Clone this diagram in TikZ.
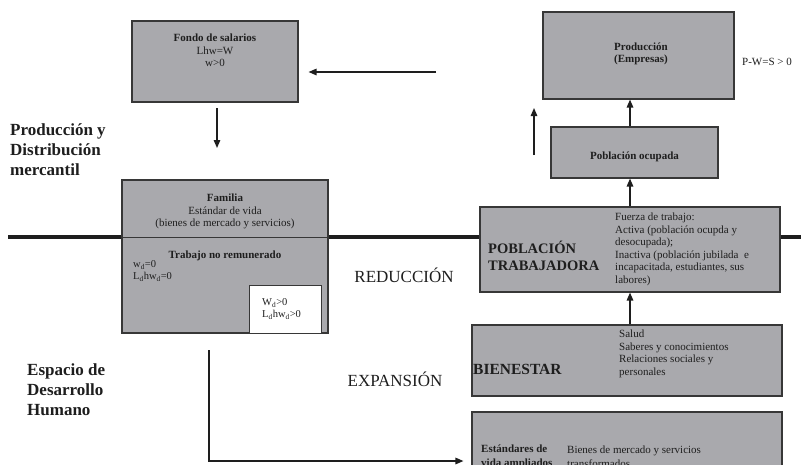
\documentclass[tikz,border=0pt]{standalone}
\usepackage{fontspec}
\setmainfont{Liberation Serif}
\usetikzlibrary{arrows.meta}
\definecolor{boxgray}{RGB}{169,169,173}
\definecolor{edgegray}{RGB}{55,55,55}
\definecolor{ink}{RGB}{30,30,30}
\tikzset{
  box/.style={draw=edgegray, line width=1.1pt, fill=boxgray, inner sep=0pt},
  whitebox/.style={draw=edgegray, line width=1pt, fill=white, inner sep=0pt},
  txt/.style={inner sep=0pt, text=ink, font=\fontsize{11}{12.5}\selectfont},
  bigtxt/.style={inner sep=0pt, text=ink, font=\fontsize{17}{20}\selectfont\bfseries, align=left, anchor=west},
  arr/.style={draw=ink, line width=1.4pt, -{Triangle[length=8pt,width=6.5pt]}},
}
\begin{document}
\begin{tikzpicture}[x=1pt,y=-1pt]
\clip (0,0) rectangle (801,464);
\fill[white] (0,0) rectangle (801,464);
% thick separation line
\coordinate (lineL) at (8,237);
\coordinate (lineR) at (801,237);
\draw[ink, line width=4.5pt] (lineL) -- (lineR);

% boxes
\node[box, minimum width=166pt, minimum height=81pt] (fondo) at (215,61.5) {};
\node[box, minimum width=191pt, minimum height=87pt] (prod) at (638.5,55.5) {};
\node[box, minimum width=167pt, minimum height=51pt] (ocup) at (634.5,152.5) {};
\node[box, minimum width=206pt, minimum height=153pt] (fam) at (225,256.5) {};
\coordinate (divL) at (122,237);
\coordinate (divR) at (328,237);
\draw[edgegray, line width=1pt] (divL) -- (divR);
\node[whitebox, minimum width=72pt, minimum height=48pt] (wbox) at (285,309) {};
\node[box, minimum width=300pt, minimum height=85pt] (trab) at (630,249.5) {};
\node[box, minimum width=310pt, minimum height=71pt] (bien) at (627,360.5) {};
\node[box, minimum width=310pt, minimum height=70pt] (estd) at (627,447) {};

% texts
\node[txt, align=center] (tfondo) at (215,50.5) {\textbf{Fondo de salarios}\\Lhw=W\\w>0};
\node[txt, align=center] (tprod) at (641,54) {\textbf{Producción}\\\textbf{(Empresas)}};
\node[txt, anchor=west] (tpws) at (742,62) {P-W=S > 0};
\node[txt, font=\fontsize{11}{12.5}\selectfont\bfseries] (tocup) at (634.5,157) {Población ocupada};
\node[txt, align=center] (tfam) at (225,211.5) {\textbf{Familia}\\Estándar de vida\\(bienes de mercado y servicios)};
\node[txt, font=\fontsize{11}{12.5}\selectfont\bfseries] (ttrabnr) at (225,256) {Trabajo no remunerado};
\node[txt, align=left, anchor=west, font=\fontsize{10.5}{11.5}\selectfont] (twd) at (133,271) {w\textsubscript{d}=0\\L\textsubscript{d}hw\textsubscript{d}=0};
\node[txt, align=left, anchor=west, font=\fontsize{10.5}{11.5}\selectfont] (tWd) at (262,309) {W\textsubscript{d}>0\\L\textsubscript{d}hw\textsubscript{d}>0};
\node[txt, align=left, anchor=west, font=\fontsize{14.5}{17}\selectfont\bfseries] (tpob) at (488,255.5) {POBLACIÓN\\TRABAJADORA};
\node[txt, align=left, anchor=west] (tfuerza) at (615,249.5) {Fuerza de trabajo:\\Activa (población ocupda y\\desocupada);\\Inactiva (población jubilada\ \ e\\incapacitada, estudiantes, sus\\labores)};
\node[txt, anchor=west, font=\fontsize{15.5}{18}\selectfont\bfseries] (tbien) at (473,369) {BIENESTAR};
\node[txt, align=left, anchor=west] (tsalud) at (619,354) {Salud\\Saberes y conocimientos\\Relaciones sociales y\\personales};
\node[txt, align=left, anchor=west, font=\fontsize{11}{14}\selectfont\bfseries] (testd) at (481,457) {Estándares de\\vida ampliados};
\node[txt, align=left, anchor=west, font=\fontsize{11}{14}\selectfont] (tbienes) at (567,457) {Bienes de mercado y servicios\\transformados};
\node[bigtxt] (lprod) at (10,150) {Producción y\\Distribución\\mercantil};
\node[bigtxt] (lesp) at (27,390) {Espacio de\\Desarrollo\\Humano};
\node[txt, font=\fontsize{17}{20}\selectfont] (lred) at (404,275) {REDUCCIÓN};
\node[txt, font=\fontsize{17}{20}\selectfont] (lexp) at (395,379) {EXPANSIÓN};

% connectors
\coordinate (a1s) at (436,72);
\draw[arr, shorten >=10pt] (a1s) -- (fondo.east |- a1s);
\coordinate (a2s) at (217,108);
\coordinate (a2e) at (217,148);
\draw[arr] (a2s) -- (a2e);
\coordinate (a3s) at (534,155);
\coordinate (a3e) at (534,108);
\draw[arr] (a3s) -- (a3e);
\draw[arr] (ocup.north -| 630,0) -- (prod.south -| 630,0);
\draw[arr] (trab.north -| 630,0) -- (ocup.south -| 630,0);
\draw[arr] (bien.north -| 630,0) -- (trab.south -| 630,0);
\coordinate (a7s) at (209,350);
\coordinate (a7c) at (209,461);
\draw[arr, shorten >=8pt] (a7s) -- (a7c) -- (estd.west |- a7c);
\end{tikzpicture}
\end{document}
